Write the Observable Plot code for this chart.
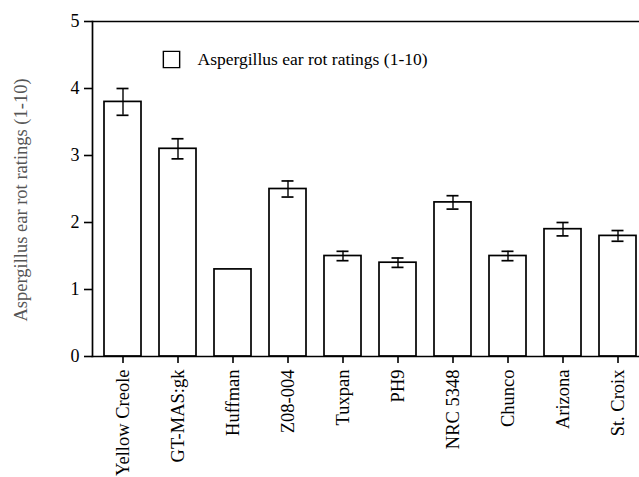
<!DOCTYPE html>
<html>
<head>
<meta charset="utf-8">
<script src="https://cdn.jsdelivr.net/npm/d3@7"></script>
<script src="https://cdn.jsdelivr.net/npm/@observablehq/plot@0.6"></script>
<style>
  html, body { margin: 0; padding: 0; background: #fff; }
  #chart svg { display: block; }
</style>
</head>
<body>
<div id="chart"></div>
<script>
const cultivars = ["Yellow Creole", "GT-MAS:gk", "Huffman", "Z08-004", "Tuxpan", "PH9", "NRC 5348", "Chunco", "Arizona", "St. Croix"];
const ratings   = [3.8, 3.1, 1.3, 2.5, 1.5, 1.4, 2.3, 1.5, 1.9, 1.8];
const errors    = [0.2, 0.15, 0, 0.12, 0.07, 0.07, 0.1, 0.07, 0.1, 0.08];
const yTicks    = [0, 1, 2, 3, 4, 5];
const yLabel    = "Aspergillus ear rot ratings (1-10)";
const legendLabel = "Aspergillus ear rot ratings (1-10)";

const data = cultivars.map((c, i) => ({name: c, value: ratings[i], err: errors[i]}));
const withErr = data.filter(d => d.err > 0);

const font = "'Liberation Serif', 'Times New Roman', serif";

const chart = Plot.plot({
  width: 639,
  height: 477,
  marginTop: 21,
  marginBottom: 121,
  marginLeft: 92,
  marginRight: 0,
  style: {fontFamily: font, fontSize: "18px", color: "#000", background: "#fff"},
  x: {domain: cultivars, range: [92, 647], paddingInner: 0.33, paddingOuter: 0.16, align: 0.5},
  y: {domain: [0, 5]},
  marks: [
    Plot.barY(data, {x: "name", y: "value", fill: "white", stroke: "black", strokeWidth: 1.7}),
    Plot.ruleX(withErr, {x: "name", y1: d => d.value - d.err, y2: d => d.value + d.err, stroke: "black", strokeWidth: 1.4}),
    Plot.tickY(withErr, {x: "name", y: d => d.value + d.err, stroke: "black", strokeWidth: 1.7, insetLeft: 12.5, insetRight: 12.5}),
    Plot.tickY(withErr, {x: "name", y: d => d.value - d.err, stroke: "black", strokeWidth: 1.7, insetLeft: 12.5, insetRight: 12.5}),
    Plot.ruleY([5], {stroke: "black", strokeWidth: 1.7}),
    Plot.frame({anchor: "left", stroke: "black", strokeWidth: 1.7}),
    Plot.frame({anchor: "bottom", stroke: "black", strokeWidth: 1.7}),
    Plot.axisY({ticks: yTicks, tickSize: 8, tickPadding: 5, tickFormat: d3.format("d"), label: null, fontSize: 18, strokeWidth: 1.6}),
    Plot.axisX({tickSize: 7, tickPadding: 6, tickRotate: -90, label: null, fontSize: 18.5, strokeWidth: 1.6}),
    Plot.text([yLabel], {frameAnchor: "left", dx: -71, dy: 11, rotate: -90, textAnchor: "middle", lineAnchor: "middle", fill: "#555", fontSize: 18.5, text: d => d}),
    Plot.dot([legendLabel], {frameAnchor: "top-left", dx: 79, dy: 38, symbol: "square", r: 9.2, fill: "white", stroke: "black", strokeWidth: 1.4}),
    Plot.text([legendLabel], {frameAnchor: "top-left", dx: 105, dy: 38, textAnchor: "start", lineAnchor: "middle", fontSize: 17.5, fill: "black", text: d => d})
  ]
});
document.getElementById("chart").appendChild(chart);
</script>
</body>
</html>
